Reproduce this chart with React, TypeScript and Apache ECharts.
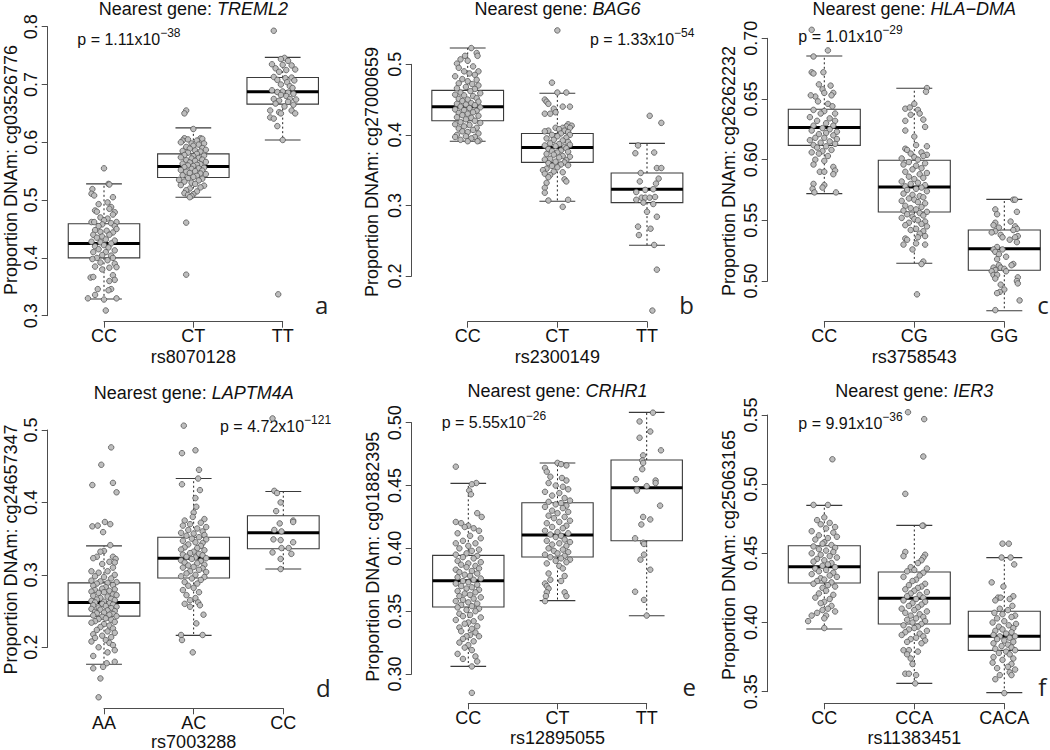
import React, { useEffect, useRef } from "react";
import * as echarts from "echarts";

const FONT = "'Liberation Sans', Arial, Helvetica, sans-serif";
const LETTER_FONT = "'Open Sans', 'Noto Sans', sans-serif";

// ---------- text data ----------
const GENES = ["TREML2", "BAG6", "HLA\u2212DMA", "LAPTM4A", "CRHR1", "IER3"];
const SNPS = ["rs8070128", "rs2300149", "rs3758543", "rs7003288", "rs12895055", "rs11383451"];
const PROBES = ["cg03526776", "cg27000659", "cg26262232", "cg24657347", "cg01882395", "cg25063165"];
const P_MANTISSA = ["1.11", "1.33", "1.01", "4.72", "5.55", "9.91"];
const P_EXPONENT = ["\u221238", "\u221254", "\u221229", "\u2212121", "\u221226", "\u221236"];
const PANEL_LETTERS = ["a", "b", "c", "d", "e", "f"];
const GENOTYPES = [
  ["CC", "CT", "TT"],
  ["CC", "CT", "TT"],
  ["CC", "CG", "GG"],
  ["AA", "AC", "CC"],
  ["CC", "CT", "TT"],
  ["CC", "CCA", "CACA"],
];

// ---------- y axis ticks ----------
const Y_MIN = [0.3, 0.2, 0.5, 0.2, 0.3, 0.35];
const Y_MAX = [0.8, 0.5, 0.7, 0.5, 0.5, 0.55];
const Y_STEP = [0.1, 0.1, 0.05, 0.1, 0.05, 0.05];
const Y_DECIMALS = [1, 1, 2, 1, 2, 2];

// ---------- box statistics: [lower whisker, Q1, median, Q3, upper whisker] ----------
const BOX_A = [[0.329, 0.4, 0.425, 0.459, 0.528], [0.505, 0.539, 0.558, 0.58, 0.625], [0.604, 0.666, 0.6875, 0.712, 0.747]];
const BOX_B = [[0.391, 0.42, 0.44, 0.463, 0.523], [0.306, 0.361, 0.382, 0.402, 0.459], [0.2435, 0.304, 0.323, 0.346, 0.388]];
const BOX_C = [[0.572, 0.6118, 0.6264, 0.6415, 0.6854], [0.5146, 0.5569, 0.5775, 0.5995, 0.6588], [0.4755, 0.5088, 0.5266, 0.542, 0.5673]];
const BOX_D = [[0.1765, 0.243, 0.262, 0.289, 0.34], [0.2165, 0.2957, 0.323, 0.352, 0.433], [0.308, 0.336, 0.358, 0.3817, 0.415]];
const BOX_E = [[0.3061, 0.3533, 0.3743, 0.3944, 0.4517], [0.3584, 0.3931, 0.4106, 0.4363, 0.4679], [0.3464, 0.4061, 0.4483, 0.4703, 0.5082]];
const BOX_F = [[0.3953, 0.4286, 0.4404, 0.4555, 0.4847], [0.356, 0.3989, 0.4175, 0.4365, 0.4702], [0.3493, 0.3799, 0.39, 0.4081, 0.4469]];

// ---------- individual points: [horizontal jitter (category units), value] ----------
const PTS_A_CC = [[0,0.555],[0.05,0.528],[0.06,0.527],[-0.13,0.519],[-0.14,0.511],[-0.11,0.508],[0.1,0.505],[0.04,0.496],[-0.06,0.493],[0.08,0.488],[0.06,0.485],[-0.1,0.482],[-0.08,0.48],[0.12,0.479],[0.1,0.475],[-0.04,0.47],[0.04,0.468],[-0.14,0.462],[-0.11,0.462],[0,0.465],[0.14,0.462],[0.08,0.46],[-0.02,0.458],[0.12,0.455],[-0.06,0.455],[0.14,0.45],[-0.1,0.448],[0.03,0.447],[-0.04,0.445],[0.1,0.444],[-0.12,0.44],[0.06,0.44],[-0.02,0.437],[-0.08,0.435],[0.02,0.432],[0.12,0.43],[-0.14,0.428],[-0.04,0.427],[0.08,0.425],[0,0.422],[-0.1,0.42],[0.05,0.418],[-0.06,0.415],[0.12,0.413],[-0.12,0.41],[0.02,0.41],[-0.02,0.405],[0.08,0.404],[0.1,0.4],[-0.08,0.4],[-0.13,0.398],[0.04,0.396],[-0.04,0.392],[0.12,0.39],[-0.1,0.385],[0.14,0.384],[0.06,0.383],[-0.02,0.38],[0.1,0.37],[0.12,0.362],[-0.15,0.366],[-0.12,0.367],[0.06,0.36],[0.08,0.346],[-0.07,0.346],[0.05,0.344],[-0.1,0.336],[-0.18,0.33],[0.14,0.33],[0,0.328],[0.02,0.309]];
const PTS_A_CT = [[-0.08,0.655],[-0.1,0.65],[0,0.623],[-0.1,0.607],[-0.12,0.603],[0.08,0.607],[0.1,0.606],[-0.06,0.605],[0.04,0.603],[-0.14,0.6],[0.12,0.598],[-0.02,0.598],[0.06,0.596],[0,0.594],[-0.08,0.592],[0.1,0.59],[-0.04,0.589],[0.14,0.587],[0.02,0.586],[-0.12,0.585],[0.08,0.584],[-0.06,0.582],[0.04,0.58],[-0.1,0.578],[0.12,0.577],[0,0.576],[-0.14,0.574],[0.06,0.573],[-0.02,0.572],[0.1,0.57],[-0.08,0.569],[0.02,0.568],[0.14,0.566],[-0.04,0.565],[-0.12,0.563],[0.08,0.562],[0.04,0.561],[-0.06,0.56],[0,0.559],[-0.1,0.557],[0.12,0.556],[0.06,0.555],[-0.02,0.554],[-0.14,0.552],[0.1,0.551],[0.02,0.55],[-0.08,0.549],[-0.04,0.547],[0.08,0.546],[0.14,0.545],[-0.12,0.543],[0.04,0.542],[0,0.54],[-0.06,0.538],[0.1,0.537],[-0.16,0.535],[0.06,0.534],[-0.1,0.532],[-0.02,0.53],[0.02,0.528],[-0.14,0.526],[0.12,0.525],[0.08,0.522],[-0.04,0.52],[-0.08,0.517],[0.04,0.515],[-0.1,0.512],[0,0.51],[-0.06,0.509],[-0.02,0.507],[-0.04,0.505],[-0.08,0.461],[-0.08,0.371]];
const PTS_A_TT = [[-0.1,0.793],[0.02,0.746],[-0.02,0.744],[0.06,0.741],[-0.12,0.735],[0,0.734],[0.1,0.733],[-0.08,0.728],[0.14,0.726],[0.04,0.725],[-0.04,0.722],[-0.1,0.713],[0.1,0.712],[0.03,0.711],[0.13,0.707],[-0.06,0.708],[0.05,0.704],[-0.02,0.7],[0.08,0.697],[0.11,0.694],[-0.12,0.69],[0,0.688],[-0.06,0.687],[0.06,0.686],[0.12,0.684],[-0.02,0.682],[0.04,0.68],[-0.1,0.675],[0.08,0.675],[0.15,0.674],[-0.04,0.672],[0.06,0.67],[-0.08,0.667],[0.12,0.665],[0.02,0.662],[-0.14,0.655],[0.1,0.655],[-0.04,0.652],[-0.02,0.65],[0.14,0.65],[-0.14,0.643],[-0.1,0.641],[-0.06,0.628],[0,0.604],[-0.05,0.337]];

const PTS_B_CC = [[0.04,0.523],[0.1,0.516],[0.11,0.512],[-0.03,0.512],[-0.12,0.501],[-0.08,0.507],[0,0.505],[0.06,0.497],[-0.1,0.495],[0.12,0.49],[-0.04,0.49],[0.02,0.487],[0.08,0.485],[-0.14,0.483],[-0.06,0.479],[0.1,0.478],[0,0.476],[-0.1,0.473],[0.05,0.472],[0.12,0.47],[-0.02,0.468],[-0.12,0.466],[0.08,0.465],[0.03,0.462],[-0.08,0.46],[0.14,0.459],[-0.14,0.457],[-0.04,0.456],[0.06,0.455],[0.1,0.452],[-0.1,0.451],[0,0.45],[-0.06,0.448],[0.12,0.447],[0.04,0.445],[-0.12,0.444],[-0.02,0.443],[0.08,0.442],[-0.08,0.44],[0.14,0.439],[0.02,0.438],[-0.14,0.436],[-0.04,0.435],[0.1,0.434],[0.06,0.432],[-0.1,0.431],[0,0.43],[-0.06,0.428],[0.12,0.427],[-0.12,0.425],[0.04,0.424],[-0.02,0.422],[0.08,0.42],[-0.08,0.418],[0.14,0.417],[-0.14,0.415],[0.02,0.414],[-0.04,0.412],[0.1,0.41],[-0.1,0.409],[0.06,0.407],[-0.06,0.405],[0,0.404],[0.12,0.402],[-0.12,0.4],[-0.02,0.398],[0.08,0.397],[-0.14,0.397],[0.04,0.395],[-0.08,0.393],[0.13,0.392],[0,0.391],[0.11,0.391]];
const PTS_B_CT = [[0,0.548],[-0.06,0.474],[0.1,0.46],[0,0.46],[0.14,0.44],[-0.14,0.45],[-0.12,0.447],[-0.1,0.444],[0.06,0.44],[-0.04,0.437],[-0.02,0.432],[-0.14,0.43],[-0.08,0.43],[0.12,0.415],[0.16,0.413],[0.1,0.412],[0.06,0.41],[0.14,0.41],[-0.02,0.41],[0.02,0.408],[0.08,0.406],[-0.1,0.406],[0.12,0.404],[-0.14,0.405],[0.04,0.402],[-0.06,0.4],[0.14,0.4],[0,0.398],[0.1,0.396],[-0.12,0.395],[-0.04,0.393],[0.06,0.392],[0.12,0.39],[-0.08,0.388],[0.02,0.387],[0.14,0.386],[-0.14,0.385],[-0.02,0.384],[0.08,0.383],[0.1,0.381],[-0.1,0.38],[0.04,0.378],[-0.06,0.377],[0.12,0.376],[0,0.375],[-0.12,0.373],[-0.04,0.372],[0.06,0.37],[0.14,0.369],[0.02,0.368],[-0.08,0.366],[-0.14,0.365],[0.1,0.364],[-0.02,0.362],[0.08,0.361],[-0.1,0.36],[0.04,0.358],[0.12,0.357],[-0.06,0.356],[0,0.354],[-0.12,0.352],[-0.16,0.35],[-0.04,0.348],[0.06,0.347],[-0.14,0.345],[-0.08,0.343],[-0.1,0.34],[0.08,0.337],[0.1,0.334],[-0.12,0.332],[-0.14,0.325],[-0.14,0.318],[-0.1,0.307],[0.12,0.308],[0.06,0.298]];
const PTS_B_TT = [[0.03,0.427],[0.16,0.417],[-0.13,0.374],[-0.1,0.385],[0.08,0.375],[-0.07,0.346],[0.11,0.353],[0.16,0.353],[0.13,0.338],[0.1,0.331],[-0.08,0.334],[0.07,0.323],[-0.12,0.319],[-0.06,0.311],[-0.02,0.311],[0.03,0.311],[0.09,0.312],[-0.04,0.304],[0,0.291],[0.11,0.284],[-0.1,0.27],[0.04,0.267],[-0.09,0.258],[0.08,0.244],[0.11,0.209],[0.06,0.151],[0.07,0.302],[-0.02,0.322],[-0.12,0.308]];

const PTS_C_CC = [[-0.14,0.707],[0.04,0.69],[-0.12,0.685],[-0.14,0.672],[-0.01,0.672],[-0.12,0.671],[0.07,0.661],[-0.06,0.662],[-0.02,0.658],[0,0.655],[0.1,0.655],[0.08,0.653],[-0.1,0.652],[-0.15,0.653],[-0.07,0.648],[0.04,0.646],[0.09,0.644],[-0.12,0.641],[0,0.64],[0.12,0.638],[-0.04,0.638],[-0.16,0.635],[0.06,0.634],[0.12,0.632],[-0.08,0.632],[0.02,0.63],[-0.12,0.628],[0.1,0.628],[-0.02,0.626],[0.06,0.625],[-0.14,0.624],[0.14,0.623],[0.02,0.622],[-0.06,0.621],[0.1,0.62],[-0.1,0.618],[0,0.618],[0.14,0.617],[-0.16,0.616],[0.06,0.615],[-0.04,0.614],[0.12,0.613],[-0.12,0.612],[0.02,0.611],[-0.08,0.61],[0.08,0.608],[-0.02,0.607],[-0.14,0.606],[-0.06,0.605],[0.04,0.603],[-0.1,0.6],[0,0.599],[-0.12,0.596],[0.1,0.594],[0.12,0.591],[0.1,0.588],[-0.05,0.59],[0,0.59],[-0.12,0.58],[0,0.579],[-0.02,0.577],[-0.13,0.576],[-0.11,0.573],[0.13,0.573]];
const PTS_C_CG = [[0.14,0.659],[0.13,0.656],[-0.1,0.642],[-0.05,0.643],[0,0.646],[0.04,0.641],[-0.1,0.632],[0.1,0.633],[0.12,0.627],[-0.04,0.637],[0.06,0.638],[-0.1,0.624],[0,0.619],[0.02,0.612],[0.14,0.611],[-0.1,0.609],[-0.08,0.608],[0.08,0.606],[-0.04,0.605],[0.14,0.604],[0.1,0.603],[0,0.602],[-0.14,0.601],[0.04,0.6],[-0.06,0.598],[0.12,0.597],[-0.12,0.596],[0.02,0.595],[0.08,0.593],[-0.02,0.592],[-0.1,0.59],[0.14,0.589],[0.06,0.588],[-0.06,0.586],[0.1,0.585],[0,0.584],[-0.14,0.582],[0.04,0.581],[-0.04,0.58],[0.12,0.579],[-0.1,0.578],[0.08,0.577],[0.02,0.576],[-0.08,0.575],[0.14,0.574],[-0.12,0.572],[-0.02,0.571],[0.06,0.57],[0.1,0.569],[-0.06,0.568],[0,0.567],[-0.14,0.566],[0.04,0.565],[0.12,0.564],[-0.1,0.562],[0.08,0.561],[-0.04,0.56],[0.02,0.559],[-0.12,0.558],[0.14,0.557],[0.06,0.556],[-0.08,0.555],[0.1,0.554],[-0.02,0.553],[-0.14,0.552],[0,0.551],[0.04,0.55],[0.12,0.549],[-0.06,0.548],[0.08,0.547],[-0.1,0.546],[0.14,0.545],[0.02,0.543],[-0.04,0.542],[0.1,0.541],[0.06,0.539],[0.12,0.537],[-0.1,0.535],[-0.08,0.534],[0.04,0.536],[-0.12,0.53],[0.02,0.531],[0.12,0.53],[-0.02,0.526],[0.1,0.516],[0.08,0.514],[0.03,0.489]];
const PTS_C_GG = [[0.1,0.567],[0.12,0.567],[-0.1,0.559],[0.14,0.557],[-0.08,0.555],[0.07,0.549],[-0.1,0.548],[-0.12,0.546],[0.12,0.545],[-0.06,0.544],[0.14,0.543],[0.1,0.542],[-0.1,0.541],[-0.14,0.54],[-0.04,0.538],[0.15,0.537],[-0.02,0.536],[0.12,0.536],[0.06,0.534],[0.14,0.532],[-0.08,0.528],[-0.12,0.526],[-0.02,0.526],[-0.1,0.524],[-0.06,0.522],[0.02,0.52],[-0.08,0.518],[0.1,0.514],[-0.06,0.513],[0.08,0.513],[-0.12,0.511],[-0.04,0.511],[0,0.51],[-0.1,0.509],[-0.14,0.508],[0.02,0.508],[-0.12,0.505],[-0.08,0.505],[-0.1,0.502],[0.15,0.503],[0.14,0.5],[0.15,0.498],[-0.04,0.497],[0,0.493],[-0.05,0.491],[-0.08,0.49],[0.17,0.484],[-0.1,0.476]];

const PTS_D_AA = [[0.08,0.476],[-0.03,0.452],[-0.13,0.424],[0.1,0.427],[0.14,0.414],[0.01,0.373],[0.07,0.37],[-0.13,0.367],[-0.07,0.368],[-0.01,0.359],[0.07,0.341],[0,0.333],[-0.04,0.332],[0.1,0.325],[0.13,0.322],[-0.08,0.325],[-0.12,0.323],[0.06,0.318],[0.12,0.317],[-0.02,0.315],[0.1,0.31],[-0.14,0.305],[0.04,0.305],[-0.06,0.303],[0.12,0.3],[-0.1,0.298],[0,0.297],[0.08,0.295],[-0.14,0.292],[-0.04,0.291],[0.14,0.29],[0.04,0.289],[-0.08,0.288],[0.1,0.286],[-0.12,0.285],[0.02,0.283],[-0.02,0.281],[0.12,0.28],[-0.1,0.279],[0.06,0.278],[-0.14,0.277],[0,0.276],[-0.06,0.275],[0.1,0.273],[0.14,0.272],[-0.12,0.271],[0.04,0.27],[-0.04,0.268],[0.08,0.267],[-0.08,0.266],[0.12,0.265],[-0.14,0.264],[0,0.263],[-0.1,0.262],[0.06,0.261],[-0.02,0.26],[0.1,0.259],[-0.12,0.258],[0.02,0.257],[0.14,0.256],[-0.06,0.255],[0.08,0.254],[-0.14,0.253],[-0.04,0.252],[0.04,0.251],[0.12,0.25],[-0.1,0.249],[0,0.248],[-0.08,0.247],[0.1,0.246],[0.06,0.245],[-0.12,0.244],[0.14,0.243],[-0.02,0.242],[0.02,0.24],[-0.06,0.239],[0.08,0.238],[-0.1,0.236],[0.12,0.235],[-0.14,0.234],[0,0.232],[0.06,0.23],[-0.04,0.228],[0.1,0.226],[-0.08,0.224],[0.04,0.222],[0.12,0.22],[-0.12,0.218],[-0.02,0.216],[0.08,0.214],[-0.1,0.213],[0.02,0.21],[-0.14,0.208],[0.06,0.206],[0.1,0.203],[-0.06,0.2],[0.12,0.196],[0.04,0.193],[-0.12,0.188],[0.12,0.18],[0.03,0.178],[-0.01,0.173],[-0.12,0.171],[-0.04,0.157],[-0.06,0.131]];
const PTS_D_AC = [[-0.11,0.506],[-0.13,0.468],[0.02,0.472],[0.06,0.445],[0.05,0.433],[-0.13,0.425],[0.07,0.417],[0.02,0.406],[0.03,0.394],[0,0.386],[-0.01,0.38],[-0.1,0.375],[0.12,0.377],[0.08,0.372],[-0.04,0.37],[-0.12,0.368],[0.14,0.366],[0.04,0.364],[-0.06,0.362],[0.1,0.36],[-0.14,0.358],[0,0.357],[0.12,0.355],[-0.08,0.354],[0.06,0.352],[-0.02,0.35],[0.14,0.349],[-0.12,0.347],[0.02,0.345],[0.1,0.344],[-0.06,0.342],[0.08,0.34],[-0.1,0.338],[0.04,0.337],[-0.14,0.335],[0.12,0.334],[0,0.332],[-0.04,0.33],[0.06,0.329],[-0.12,0.328],[0.1,0.327],[-0.08,0.325],[0.02,0.324],[0.14,0.323],[-0.02,0.322],[-0.14,0.32],[0.08,0.319],[-0.1,0.317],[0.04,0.316],[0.12,0.314],[-0.06,0.313],[0,0.311],[-0.12,0.31],[0.1,0.309],[0.06,0.307],[-0.04,0.305],[0.14,0.304],[-0.08,0.302],[0.02,0.3],[-0.14,0.298],[0.12,0.297],[-0.02,0.295],[0.08,0.293],[-0.1,0.29],[0.04,0.288],[-0.06,0.285],[0,0.282],[-0.12,0.279],[0.06,0.276],[-0.08,0.272],[0.02,0.268],[-0.04,0.265],[0.05,0.262],[-0.1,0.26],[0.07,0.258],[-0.04,0.256],[0.11,0.245],[0.03,0.233],[-0.14,0.217],[0.1,0.217],[-0.13,0.21],[-0.01,0.193]];
const PTS_D_CC = [[-0.12,0.516],[-0.1,0.416],[-0.07,0.413],[-0.03,0.4],[-0.08,0.388],[-0.1,0.362],[-0.04,0.371],[0.11,0.375],[0.11,0.373],[-0.02,0.36],[-0.11,0.349],[-0.03,0.348],[0.11,0.345],[-0.12,0.331],[-0.02,0.337],[0.06,0.337],[0.09,0.329],[-0.03,0.322],[-0.03,0.308]];

const PTS_E_CC = [[-0.14,0.465],[0.09,0.452],[0.04,0.451],[0.01,0.446],[0.03,0.443],[0.15,0.425],[0.1,0.428],[-0.14,0.421],[-0.08,0.42],[0,0.418],[-0.04,0.417],[0.06,0.416],[0.12,0.414],[-0.12,0.412],[0.02,0.41],[0.14,0.408],[-0.06,0.406],[-0.14,0.404],[0.08,0.404],[0,0.402],[-0.1,0.4],[0.12,0.399],[0.04,0.398],[-0.02,0.396],[-0.14,0.395],[0.1,0.394],[-0.06,0.393],[0.06,0.392],[-0.12,0.39],[0.14,0.389],[0,0.388],[-0.08,0.387],[0.08,0.386],[-0.02,0.385],[0.12,0.384],[-0.14,0.383],[0.04,0.382],[-0.1,0.381],[0.1,0.38],[-0.04,0.379],[0.02,0.378],[-0.12,0.377],[0.14,0.376],[0.06,0.375],[-0.06,0.374],[0,0.373],[-0.14,0.372],[0.1,0.371],[-0.08,0.37],[0.04,0.369],[-0.02,0.368],[0.12,0.367],[-0.12,0.366],[0.08,0.365],[-0.04,0.364],[0.02,0.363],[-0.1,0.362],[0.14,0.361],[0.06,0.36],[-0.06,0.359],[-0.14,0.358],[0,0.357],[0.1,0.356],[-0.08,0.355],[0.04,0.354],[-0.12,0.353],[0.12,0.352],[-0.02,0.351],[0.08,0.35],[-0.1,0.348],[0.02,0.347],[-0.06,0.346],[0.14,0.345],[-0.14,0.343],[0.06,0.342],[0,0.341],[-0.04,0.34],[0.1,0.338],[-0.1,0.337],[0.04,0.336],[-0.08,0.334],[0.08,0.333],[0.02,0.331],[-0.02,0.33],[0.12,0.33],[-0.06,0.328],[0.06,0.326],[-0.1,0.325],[0,0.323],[-0.04,0.321],[0.04,0.319],[-0.12,0.316],[0.08,0.314],[-0.06,0.312],[0.1,0.31],[0.04,0.306],[0.04,0.285]];
const PTS_E_CT = [[-0.14,0.464],[0,0.468],[0.04,0.467],[0.1,0.466],[-0.12,0.461],[-0.08,0.457],[0.05,0.456],[0.1,0.454],[-0.1,0.452],[-0.02,0.45],[0.06,0.449],[0.12,0.447],[-0.14,0.445],[0.02,0.444],[-0.06,0.442],[0.08,0.44],[0.14,0.438],[-0.1,0.437],[0.04,0.436],[-0.02,0.435],[0.1,0.434],[-0.14,0.433],[0.06,0.432],[-0.06,0.43],[0.12,0.429],[0,0.428],[-0.1,0.426],[0.08,0.425],[-0.04,0.424],[0.14,0.422],[0.02,0.421],[-0.12,0.42],[0.1,0.418],[-0.06,0.417],[0.06,0.416],[-0.14,0.414],[0,0.413],[0.12,0.412],[-0.08,0.411],[0.04,0.41],[-0.02,0.409],[0.08,0.407],[-0.12,0.406],[0.14,0.405],[0.02,0.404],[-0.06,0.403],[0.1,0.402],[-0.1,0.4],[0.06,0.399],[-0.04,0.398],[0.12,0.397],[0,0.396],[-0.14,0.395],[0.08,0.394],[-0.08,0.393],[0.04,0.392],[0.14,0.391],[-0.02,0.39],[0.1,0.389],[-0.12,0.388],[0.02,0.386],[0.06,0.384],[-0.1,0.38],[0.08,0.378],[-0.08,0.375],[0.04,0.374],[-0.14,0.372],[-0.12,0.37],[-0.1,0.368],[-0.12,0.365],[0.08,0.365],[0.1,0.362],[-0.13,0.362],[-0.14,0.358]];
const PTS_E_TT = [[0.07,0.508],[-0.08,0.501],[0.04,0.493],[-0.08,0.488],[0.16,0.478],[-0.04,0.474],[-0.05,0.47],[-0.04,0.468],[-0.05,0.463],[-0.12,0.455],[0.1,0.454],[0.1,0.452],[0,0.4495],[-0.11,0.447],[-0.11,0.446],[0.15,0.434],[-0.04,0.425],[0.04,0.423],[-0.06,0.419],[-0.13,0.408],[-0.04,0.4045],[-0.03,0.4035],[-0.03,0.395],[-0.07,0.391],[0.04,0.383],[-0.13,0.3655],[-0.03,0.359],[0,0.3465]];

const PTS_F_CC = [[0.09,0.518],[-0.12,0.485],[0.04,0.485],[0,0.476],[-0.08,0.474],[0.06,0.472],[-0.04,0.471],[0.12,0.469],[0.02,0.468],[-0.14,0.466],[0.1,0.465],[-0.06,0.463],[0.14,0.462],[0.04,0.461],[-0.1,0.46],[0,0.458],[-0.02,0.457],[0.08,0.456],[-0.12,0.455],[0.12,0.454],[-0.06,0.453],[0.02,0.452],[0.1,0.451],[-0.14,0.45],[-0.04,0.449],[0.06,0.448],[0.14,0.447],[-0.08,0.446],[0,0.445],[-0.12,0.444],[0.08,0.443],[0.04,0.442],[-0.02,0.441],[0.12,0.44],[-0.1,0.439],[0.02,0.438],[-0.06,0.437],[0.1,0.436],[-0.14,0.435],[0.06,0.434],[0.14,0.433],[-0.04,0.432],[0,0.431],[-0.08,0.43],[0.08,0.429],[-0.12,0.428],[0.04,0.427],[0.12,0.426],[-0.02,0.425],[0.02,0.423],[-0.06,0.421],[0.1,0.42],[-0.1,0.418],[0.06,0.417],[0,0.415],[-0.04,0.414],[0.08,0.412],[0.04,0.41],[-0.02,0.409],[0.12,0.408],[-0.08,0.407],[0.02,0.405],[0,0.403],[-0.14,0.405],[-0.18,0.401],[0,0.396]];
const PTS_F_CCA = [[-0.07,0.552],[0.11,0.547],[0.1,0.52],[-0.1,0.493],[0.1,0.47],[0.09,0.47],[-0.1,0.451],[0.12,0.449],[0.1,0.447],[-0.12,0.448],[0.08,0.445],[0.04,0.443],[-0.04,0.44],[0.14,0.439],[0,0.438],[-0.08,0.437],[0.1,0.436],[0.06,0.434],[-0.12,0.433],[0.02,0.431],[-0.02,0.43],[0.12,0.428],[-0.06,0.427],[0.08,0.426],[0.04,0.425],[-0.1,0.424],[0,0.423],[0.14,0.422],[-0.04,0.421],[0.06,0.42],[-0.08,0.419],[0.1,0.418],[0.02,0.417],[-0.12,0.416],[0.12,0.415],[-0.02,0.414],[0.08,0.413],[-0.06,0.412],[0.04,0.411],[-0.14,0.41],[0,0.409],[0.14,0.408],[-0.1,0.407],[0.06,0.406],[-0.04,0.405],[0.1,0.404],[0.02,0.403],[-0.08,0.402],[0.12,0.401],[-0.02,0.4],[0.08,0.399],[-0.12,0.398],[0.04,0.397],[0,0.396],[-0.06,0.395],[0.14,0.394],[-0.1,0.393],[0.06,0.392],[-0.14,0.391],[0.1,0.39],[0.02,0.389],[-0.04,0.388],[0.12,0.387],[-0.08,0.386],[0.08,0.385],[-0.12,0.38],[-0.06,0.38],[-0.08,0.377],[-0.04,0.374],[0.04,0.379],[-0.02,0.37],[-0.1,0.363],[-0.06,0.363],[0.02,0.362],[0.01,0.356]];
const PTS_F_CACA = [[-0.02,0.457],[0.05,0.457],[-0.03,0.447],[0.07,0.447],[0.11,0.442],[-0.14,0.429],[-0.01,0.426],[0.1,0.419],[-0.07,0.418],[-0.04,0.418],[0.06,0.417],[-0.1,0.416],[0.09,0.412],[-0.05,0.41],[0.04,0.409],[-0.11,0.407],[-0.02,0.406],[0.12,0.405],[0.08,0.404],[-0.08,0.403],[0,0.401],[-0.13,0.4],[0.13,0.399],[0.05,0.398],[-0.06,0.397],[0.1,0.396],[-0.02,0.395],[-0.1,0.394],[0.08,0.393],[0.02,0.392],[-0.12,0.391],[0.12,0.39],[-0.05,0.39],[0.06,0.389],[-0.08,0.388],[0,0.387],[0.1,0.386],[-0.12,0.385],[0.04,0.384],[-0.03,0.383],[0.08,0.382],[-0.1,0.381],[0.12,0.38],[0.02,0.379],[-0.06,0.378],[0.06,0.377],[-0.12,0.375],[0.1,0.374],[-0.02,0.373],[-0.13,0.371],[0.08,0.37],[0.04,0.368],[-0.08,0.367],[0.12,0.366],[0.06,0.364],[-0.05,0.362],[0.08,0.362],[-0.1,0.359],[0,0.349]];

const BOXES = [BOX_A, BOX_B, BOX_C, BOX_D, BOX_E, BOX_F];
const POINTS = [
  [PTS_A_CC, PTS_A_CT, PTS_A_TT],
  [PTS_B_CC, PTS_B_CT, PTS_B_TT],
  [PTS_C_CC, PTS_C_CG, PTS_C_GG],
  [PTS_D_AA, PTS_D_AC, PTS_D_CC],
  [PTS_E_CC, PTS_E_CT, PTS_E_TT],
  [PTS_F_CC, PTS_F_CCA, PTS_F_CACA],
];

// ---------- layout (pixels) ----------
const LAYOUT = [
  { left: 104, width: 178.7, top: 26.7, height: 289, yOff: 56.3, xOff: 6, nameGapX: 26, nameX: 10.5, nameY: 170, titleX: 193.4, titleY: 8.7, pX: 77.3, pBase: 45, letterX: 321.7, letterBase: 313 },
  { left: 467.7, width: 179.3, top: 64.3, height: 211.7, yOff: 56, xOff: 45.7, nameGapX: 26, nameX: 371.5, nameY: 172, titleX: 557.5, titleY: 8.7, pX: 590, pBase: 45, letterX: 686.7, letterBase: 313 },
  { left: 824.3, width: 180, top: 38.3, height: 242.7, yOff: 56.6, xOff: 40.7, nameGapX: 26, nameX: 729, nameY: 171, titleX: 914.2, titleY: 8.7, pX: 798.3, pBase: 42, letterX: 1043, letterBase: 313 },
  { left: 104, width: 179.3, top: 430, height: 217.3, yOff: 56.3, xOff: 61, nameGapX: 22.7, nameX: 10.5, nameY: 549.5, titleX: 193.8, titleY: 393, pX: 220, pBase: 432, letterX: 323.3, letterBase: 696.7 },
  { left: 468.3, width: 178.4, top: 422.7, height: 251.3, yOff: 56.6, xOff: 29.3, nameGapX: 26, nameX: 372.5, nameY: 556.7, titleX: 557.5, titleY: 391, pX: 441.7, pBase: 428, letterX: 689.3, letterBase: 695 },
  { left: 824.3, width: 180, top: 415, height: 276.7, yOff: 56.6, xOff: 11.6, nameGapX: 26, nameX: 729, nameY: 555, titleX: 914.2, titleY: 391, pX: 798.3, pBase: 429, letterX: 1042.3, letterBase: 695 },
];

const AXIS_COLOR = "#4d4d4d";
const TEXT_COLOR = "#111";

function buildOption() {
  const grid: any[] = [];
  const xAxis: any[] = [];
  const yAxis: any[] = [];
  const series: any[] = [];
  const graphic: any[] = [];

  for (let i = 0; i < 6; i++) {
    const L = LAYOUT[i];
    const cats = GENOTYPES[i];
    const dec = Y_DECIMALS[i];
    grid.push({ left: L.left, top: L.top, width: L.width, height: L.height, containLabel: false, outerBoundsMode: "none" });
    xAxis.push({
      type: "value", gridIndex: i, min: 1, max: 3, interval: 1, offset: L.xOff,
      axisLine: { show: true, onZero: false, lineStyle: { color: AXIS_COLOR, width: 1 } },
      axisTick: { show: true, length: 6, lineStyle: { color: AXIS_COLOR, width: 1 } },
      axisLabel: { show: true, showMinLabel: true, showMaxLabel: true, margin: 14.3, fontSize: 18, color: TEXT_COLOR, fontFamily: FONT,
        align: "center", verticalAlign: "middle",
        formatter: (v: number) => cats[Math.round(v) - 1] ?? "" },
      splitLine: { show: false },
      name: SNPS[i], nameLocation: "middle", nameGap: L.nameGapX,
      nameTextStyle: { fontSize: 18, color: TEXT_COLOR, fontFamily: FONT },
    });
    yAxis.push({
      type: "value", gridIndex: i, min: Y_MIN[i], max: Y_MAX[i], interval: Y_STEP[i], offset: L.yOff,
      axisLine: { show: true, onZero: false, lineStyle: { color: AXIS_COLOR, width: 1 } },
      axisTick: { show: true, length: 6, lineStyle: { color: AXIS_COLOR, width: 1 } },
      axisLabel: { show: true, showMinLabel: true, showMaxLabel: true, rotate: 90, margin: 17.2, fontSize: 18, color: TEXT_COLOR, fontFamily: FONT,
        align: "center", verticalAlign: "middle",
        formatter: (v: number) => v.toFixed(dec) },
      splitLine: { show: false },
    });

    series.push({
      type: "custom", xAxisIndex: i, yAxisIndex: i, silent: true, clip: false, z: 2,
      dimensions: ["x", "lo", "q1", "med", "q3", "hi"],
      encode: { x: 0, y: [1, 2, 3, 4, 5] },
      data: BOXES[i].map((b, j) => [j + 1, ...b]),
      renderItem: (params: any, api: any) => {
        const x = api.value(0);
        const lo = api.value(1), q1 = api.value(2), md = api.value(3), q3 = api.value(4), hi = api.value(5);
        const pTL = api.coord([x - 0.4, q3]);
        const pBR = api.coord([x + 0.4, q1]);
        const pMd = api.coord([x, md]);
        const pLo = api.coord([x, lo]);
        const pHi = api.coord([x, hi]);
        const sL = api.coord([x - 0.2, lo])[0];
        const sR = api.coord([x + 0.2, lo])[0];
        const solid = { stroke: "#3a3a3a", lineWidth: 1.1, fill: null };
        const dashed = { stroke: "#222", lineWidth: 1, lineDash: [2, 2.5], fill: null };
        return {
          type: "group",
          children: [
            { type: "line", shape: { x1: pHi[0], y1: pTL[1], x2: pHi[0], y2: pHi[1] }, style: dashed },
            { type: "line", shape: { x1: pLo[0], y1: pBR[1], x2: pLo[0], y2: pLo[1] }, style: dashed },
            { type: "line", shape: { x1: sL, y1: pHi[1], x2: sR, y2: pHi[1] }, style: solid },
            { type: "line", shape: { x1: sL, y1: pLo[1], x2: sR, y2: pLo[1] }, style: solid },
            { type: "rect", shape: { x: pTL[0], y: pTL[1], width: pBR[0] - pTL[0], height: pBR[1] - pTL[1] }, style: { stroke: "#3a3a3a", lineWidth: 1.1, fill: "rgba(255,255,255,0)" } },
            { type: "line", shape: { x1: pTL[0], y1: pMd[1], x2: pBR[0], y2: pMd[1] }, style: { stroke: "#000", lineWidth: 3 } },
          ],
        };
      },
    });

    series.push({
      type: "scatter", xAxisIndex: i, yAxisIndex: i, silent: true, clip: false, z: 3,
      symbol: "circle", symbolSize: 5.5,
      itemStyle: { color: "#bdbdbd", borderColor: "#555", borderWidth: 0.8, opacity: 1 },
      emphasis: { disabled: true },
      data: POINTS[i].flatMap((grp, j) => grp.map(([dx, y]) => [j + 1 + dx, y])),
    });

    // y-axis title (rotated, reading bottom to top)
    graphic.push({
      type: "text", x: L.nameX, y: L.nameY, rotation: Math.PI / 2, silent: true,
      style: {
        text: "Proportion DNAm: " + PROBES[i], fontSize: 18, fontFamily: FONT, fill: TEXT_COLOR,
        align: "center", verticalAlign: "middle", textAlign: "center", textVerticalAlign: "middle",
      },
    });
    graphic.push({
      type: "text", x: L.titleX, y: L.titleY, silent: true,
      style: {
        text: `{n|Nearest gene: }{i|${GENES[i]}}`,
        rich: {
          n: { fontSize: 18, fontFamily: FONT, fill: TEXT_COLOR },
          i: { fontSize: 18, fontFamily: FONT, fontStyle: "italic", fill: TEXT_COLOR },
        },
        align: "center", verticalAlign: "middle", textAlign: "center", textVerticalAlign: "middle",
      },
    });
    graphic.push({
      type: "text", x: L.pX, y: L.pBase - 17.6, silent: true,
      style: {
        text: `{n|p = ${P_MANTISSA[i]}x10}{s|${P_EXPONENT[i]}}`,
        rich: {
          n: { fontSize: 16, lineHeight: 16, verticalAlign: "bottom", fontFamily: FONT, fill: TEXT_COLOR },
          s: { fontSize: 12, lineHeight: 20, verticalAlign: "top", fontFamily: FONT, fill: TEXT_COLOR },
        },
        align: "left", verticalAlign: "top", textAlign: "left", textVerticalAlign: "top",
      },
    });
    graphic.push({
      type: "text", x: L.letterX, y: L.letterBase - 0.37 * 24, silent: true,
      style: {
        text: PANEL_LETTERS[i], fontSize: 24, fontFamily: LETTER_FONT, fill: "#222",
        align: "center", verticalAlign: "middle", textAlign: "center", textVerticalAlign: "middle",
      },
    });
  }

  return {
    animation: false,
    backgroundColor: "#ffffff",
    grid, xAxis, yAxis, series, graphic,
  };
}

export default function App() {
  const ref = useRef<HTMLDivElement | null>(null);
  useEffect(() => {
    if (!ref.current) return;
    const chart = echarts.init(ref.current, undefined, { renderer: "svg" });
    chart.setOption(buildOption() as any);
    return () => chart.dispose();
  }, []);
  return (
    <div
      ref={ref}
      style={{ position: "absolute", left: 0, top: 0, width: 1050, height: 750, background: "#fff" }}
    />
  );
}
